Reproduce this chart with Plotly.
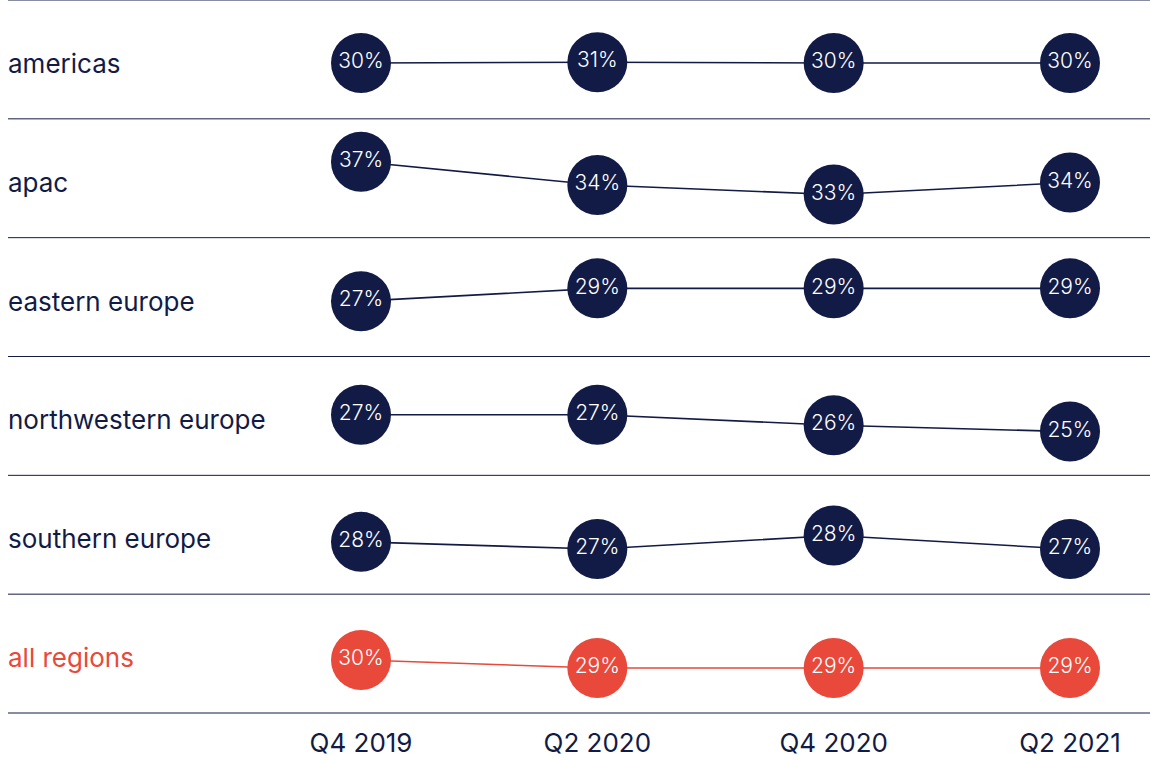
import plotly.graph_objects as go
from plotly.subplots import make_subplots

# ---- data ----
quarters = ["Q4 2019", "Q2 2020", "Q4 2020", "Q2 2021"]
regions = ["americas", "apac", "eastern europe", "northwestern europe",
           "southern europe", "all regions"]
americas = [30.45, 30.55, 30.45, 30.45]
apac = [37.0, 34.1, 32.9, 34.4]
eastern_europe = [27.4, 29.0, 29.0, 29.0]
northwestern_europe = [26.9, 26.9, 25.6, 24.8]
southern_europe = [27.6, 26.7, 28.4, 26.7]
all_regions = [29.6, 28.6, 28.6, 28.6]
series = [americas, apac, eastern_europe, northwestern_europe,
          southern_europe, all_regions]

# ---- layout settings ----
row_mid = [30.9, 34.94, 27.91, 26.76, 28.49, 30.4]
half_span = 7.43
NAVY = "#121b45"
RED = "#e8493a"
FONT = "Inter"
colors = [NAVY] * 5 + [RED]

n = len(regions)
fig = make_subplots(rows=n, cols=1, shared_xaxes=True, vertical_spacing=0)

xs = list(range(len(quarters)))
for i, (name, vals) in enumerate(zip(regions, series)):
    c = colors[i]
    fig.add_trace(go.Scatter(
        x=xs, y=vals, mode="lines+markers+text",
        line=dict(color=c, width=1.6),
        marker=dict(size=60, color=c, line=dict(width=0)),
        text=[f"{round(v)}%" for v in vals],
        textposition="middle center",
        textfont=dict(family=FONT, size=21, color="white", weight=300),
        hoverinfo="skip", showlegend=False, cliponaxis=False,
    ), row=i + 1, col=1)
    yname = "yaxis" if i == 0 else f"yaxis{i+1}"
    fig.layout[yname].update(range=[row_mid[i] - half_span, row_mid[i] + half_span],
                             visible=False, fixedrange=True)
    # region label
    fig.add_annotation(
        x=0, xref="paper", y=0.5, yref=("y" if i == 0 else f"y{i+1}") + " domain",
        text=name, showarrow=False, xanchor="left", yanchor="middle",
        xshift=-2, yshift=-4,
        font=dict(family=FONT, size=26, color=c),
    )

# separators
for k in range(n + 1):
    fig.add_shape(type="line", xref="paper", yref="paper", x0=0, x1=1,
                  y0=k / n, y1=k / n, line=dict(color=NAVY, width=1), layer="below")

# x axis positions: x=0 at px 361, x=3 at px 1070, plot from px 8 to 1150
unit = (1070 - 361) / 3
xr = [(8 - 361) / unit, (1150 - 361) / unit]
for i in range(n):
    xname = "xaxis" if i == 0 else f"xaxis{i+1}"
    fig.layout[xname].update(range=xr, showgrid=False, zeroline=False,
                             showline=False, showticklabels=False, ticks="",
                             fixedrange=True)
fig.layout[f"xaxis{n}"].update(
    showticklabels=True, tickvals=xs, ticktext=quarters,
    tickfont=dict(family=FONT, size=26, color=NAVY), ticklabelstandoff=12,
)

fig.update_layout(
    width=1150, height=760,
    margin=dict(l=8, r=0, t=0, b=47),
    paper_bgcolor="white", plot_bgcolor="white",
)

fig.write_html("out.html", config={"displayModeBar": False},
               post_script="document.body.style.margin='0px';")
